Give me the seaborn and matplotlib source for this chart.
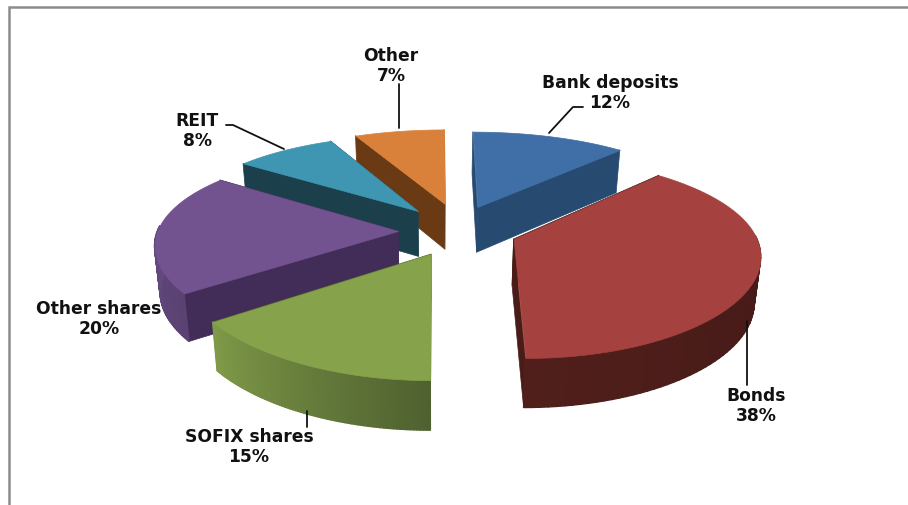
import numpy as np
import matplotlib
matplotlib.use("Agg")
import matplotlib.pyplot as plt
import seaborn as sns
from matplotlib.collections import PolyCollection

categories = ["Bank deposits", "Bonds", "SOFIX shares", "Other shares", "REIT", "Other"]
shares = [12, 38, 15, 20, 8, 7]

# styling per slice: how far each apex is pulled out, in pie radii (sideways, backwards)
pull_u = [0.178, 0.319, -0.02, -0.158, -0.077, 0.039]
pull_v = [0.241, -0.103, -0.252, -0.021, 0.196, 0.275]
top_colors = ["#3f6fa6", "#a5413e", "#86a24a", "#72528f", "#3f96b2", "#d9813a"]
cut_colors = ["#264a70", "#4a1c18", "#5a6e30", "#412d57", "#1c3f4c", "#6a3a14"]
rim_from = ["#2c5480", "#3f1715", "#4f6130", "#5a4272", "#245060", "#7a4418"]
rim_to = ["#2c5480", "#501f1b", "#7f9a48", "#6c4f8a", "#245060", "#7a4418"]

# (anchor x, anchor y, leader line points)
label_pos = [
    (610, 93, [(549, 134), (573, 108), (583, 108)]),
    (756, 406, [(747, 322), (747, 386)]),
    (249, 447, [(307, 412), (307, 428)]),
    (99, 319, []),
    (197, 131, [(284, 150), (233, 126), (226, 126)]),
    (391, 66, [(399, 129), (399, 85)]),
]

CX, CY = 436, 230
A, B = 240, 95
P_X, P_Y = 0.13, 0.17
DEPTH = 46


def project(u, v, down=0.0):
    # the sides of the pie lean in a little towards the bottom
    squeeze = 1 - 0.02 * (down / DEPTH)
    x = CX + A * u / (1 + P_X * v) * squeeze
    y = CY - B * v / (1 + P_Y * v) + down * (1 - 0.07 * v)
    return x, y


def quad(p0, p1, depth=DEPTH):
    a = project(*p0)
    b = project(*p1)
    c = project(*p1, depth)
    d = project(*p0, depth)
    return [a, b, c, d]


sns.set_theme(style="white")
plt.rcParams["font.family"] = ["DejaVu Sans"]

fig = plt.figure(figsize=(9.08, 5.06), dpi=100)
ax = fig.add_axes([0, 0, 1, 1])
ax.set_xlim(0, 908)
ax.set_ylim(506, 0)
ax.axis("off")

# frame of the pasted picture
ax.plot([9, 9, 908], [506, 8, 8], color="#8c8c8c", lw=1.8, solid_joinstyle="miter")

edges = np.cumsum([0] + shares) / sum(shares) * 2 * np.pi
mids = (edges[:-1] + edges[1:]) / 2

# back slices first
for i in np.argsort(-np.cos(mids)):
    t = np.linspace(edges[i], edges[i + 1], 80)
    arc = np.column_stack([pull_u[i] + np.sin(t), pull_v[i] + np.cos(t)])
    apex = (pull_u[i], pull_v[i])
    z = 10 - np.cos(mids[i])

    faces = [quad(apex, arc[0]), quad(apex, arc[-1])]
    ax.add_collection(PolyCollection(faces, facecolors=cut_colors[i], edgecolors=cut_colors[i], lw=0.5, zorder=z))

    rim = [quad(arc[k], arc[k + 1]) for k in range(len(arc) - 1)]
    pal = sns.blend_palette([rim_from[i], rim_to[i]], len(rim))
    # only the part of the rim that faces the viewer
    keep = [k for k in range(len(rim)) if np.cos(t[k]) < 0.05]
    if keep:
        ax.add_collection(PolyCollection([rim[k] for k in keep], facecolors=[pal[k] for k in keep],
                                         edgecolors=[pal[k] for k in keep], lw=1.0, zorder=z + 0.01))

    outline = [project(*apex)] + [project(*p) for p in arc]
    ax.add_collection(PolyCollection([outline], facecolors=top_colors[i], edgecolors=top_colors[i], lw=0.5, zorder=z + 0.02))

for name, share, (lx, ly, leader) in zip(categories, shares, label_pos):
    ax.text(lx, ly, f"{name}\n{share}%", ha="center", va="center", fontsize=12.3, fontweight="bold",
            color="#111111", linespacing=1.15, zorder=30)
    if leader:
        xs, ys = zip(*leader)
        ax.plot(xs, ys, color="#111111", lw=1.3, zorder=29)

fig.savefig("out.png", dpi=100, facecolor="white")
